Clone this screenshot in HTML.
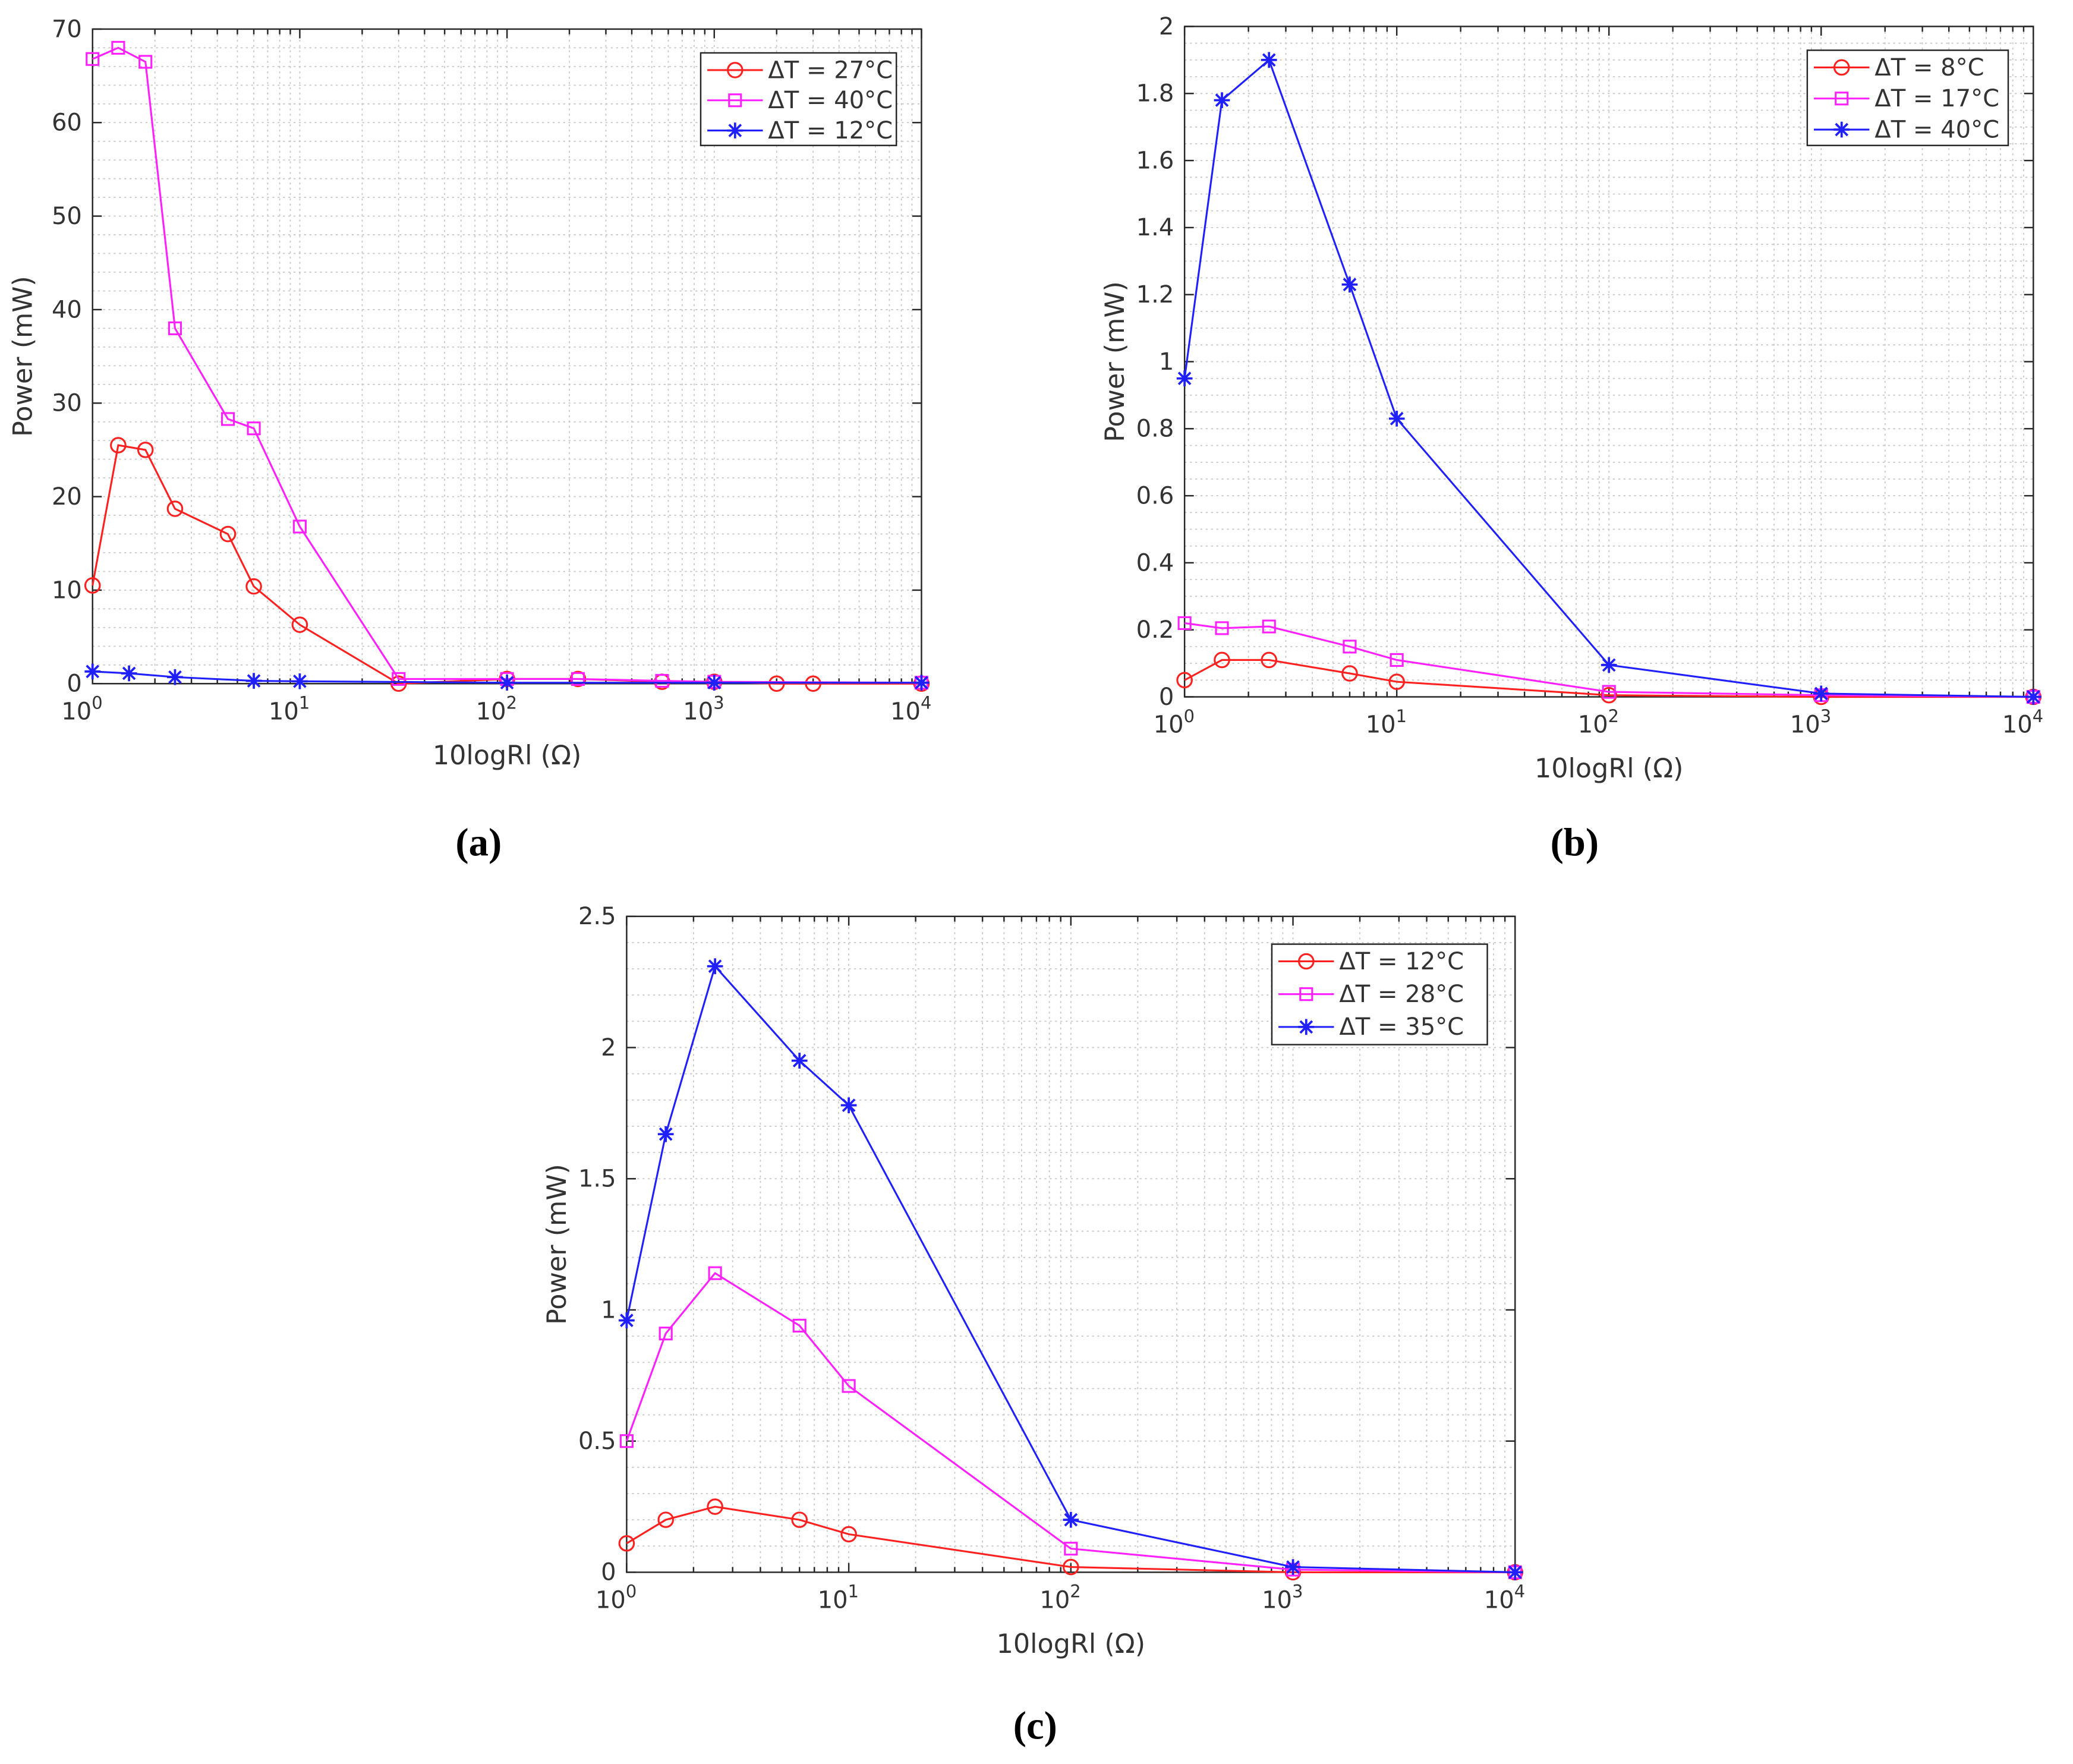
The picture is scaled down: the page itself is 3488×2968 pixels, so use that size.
<!DOCTYPE html>
<html><head><meta charset="utf-8"><style>
html,body{margin:0;padding:0;background:#fff;}
svg{display:block;}
text{font-family:"DejaVu Sans","Liberation Sans",sans-serif;fill:#333;}
.cap{font-family:"Liberation Serif",serif;font-weight:bold;fill:#000;}
</style></head><body>
<svg id="fig" width="3488" height="2968" viewBox="0 0 1568 1334" preserveAspectRatio="none" xmlns="http://www.w3.org/2000/svg">
<rect width="1568" height="1334" fill="#fff"/>
</svg>
<script>
// Chart (a)
const aX1=[1,1.33,1.8,2.5,4.5,6,10,30,100,220,560,1000,2000,3000,10000];
const aY1=[10.5,25.5,25,18.7,16,10.4,6.3,0,0.5,0.5,0.2,0.2,0,0,0];
const aX2=[1,1.33,1.8,2.5,4.5,6,10,30,100,220,560,1000,10000];
const aY2=[66.8,68,66.5,38,28.3,27.3,16.8,0.5,0.5,0.5,0.3,0.2,0.1];
const aX3=[1,1.5,2.5,6,10,100,1000,10000];
const aY3=[1.3,1.1,0.7,0.3,0.25,0.1,0.1,0.1];
const aYTicks=[0,10,20,30,40,50,60,70];
const aLegend=["ΔT = 27°C","ΔT = 40°C","ΔT = 12°C"];
// Chart (b)
const bX=[1,1.5,2.5,6,10,100,1000,10000];
const bY1=[0.05,0.11,0.11,0.07,0.045,0.005,0,0];
const bY2=[0.22,0.205,0.21,0.15,0.11,0.015,0.005,0];
const bY3=[0.95,1.78,1.9,1.23,0.83,0.095,0.01,0];
const bYTicks=[0,0.2,0.4,0.6,0.8,1,1.2,1.4,1.6,1.8,2];
const bLegend=["ΔT = 8°C","ΔT = 17°C","ΔT = 40°C"];
// Chart (c)
const cX=[1,1.5,2.5,6,10,100,1000,10000];
const cY1=[0.11,0.2,0.25,0.2,0.145,0.02,0,0];
const cY2=[0.5,0.91,1.14,0.94,0.71,0.09,0.01,0];
const cY3=[0.96,1.67,2.31,1.95,1.78,0.2,0.02,0];
const cYTicks=[0,0.5,1,1.5,2,2.5];
const cLegend=["ΔT = 12°C","ΔT = 28°C","ΔT = 35°C"];
const xDecades=[0,1,2,3,4];

const NS="http://www.w3.org/2000/svg";
const svg=document.getElementById('fig');
function mk(tag,attrs,parent){const e=document.createElementNS(NS,tag);for(const k in attrs)e.setAttribute(k,attrs[k]);(parent||svg).appendChild(e);return e;}
const colors=['#ff2020','#ff20ff','#2020ff'];
const markers=['circle','square','star'];

function drawMarker(g,type,x,y,c){
  if(type==='circle'){const m=mk('circle',{cx:x,cy:y,r:5.5,fill:'none',stroke:c,'stroke-width':1.4},g);}
  else if(type==='square'){const m=mk('rect',{x:x-4.5,y:y-4.5,width:9,height:9,fill:'none',stroke:c,'stroke-width':1.4},g);}
  else{const m=mk('path',{d:`M${x-6} ${y}H${x+6}M${x} ${y-6}V${y+6}M${x-4.5} ${y-4.5}L${x+4.5} ${y+4.5}M${x-4.5} ${y+4.5}L${x+4.5} ${y-4.5}`,stroke:c,'stroke-width':1.7,fill:'none'},g);}
}

function chart(id,L,R,T,B,yMax,yTicks,yMinorStep,series,legend,leg,cap){
  const g=mk('g',{});
  
  
  const sx=v=>L+(Math.log10(v)/4)*(R-L);
  const sy=v=>B-(v/yMax)*(B-T);
  mk('rect',{x:L,y:T,width:R-L,height:B-T,fill:'#fff'},g);
  const grid=mk('g',{stroke:'#c8c8c8','stroke-width':0.8,'stroke-dasharray':'1.5 2.5'},g);
  
  
  for(let d=0;d<4;d++)for(let k=1;k<=9;k++){const v=k*Math.pow(10,d);if(v<=1)continue;mk('line',{x1:sx(v),x2:sx(v),y1:T,y2:B},grid);}
  for(let v=0;v<=yMax+1e-9;v+=yMinorStep){mk('line',{x1:L,x2:R,y1:sy(v),y2:sy(v)},grid);}
  const ax=mk('g',{stroke:'#262626','stroke-width':1.1,fill:'none'},g);
  
  
  mk('rect',{x:L,y:T,width:R-L,height:B-T},ax);
  xDecades.forEach(d=>{const x=sx(Math.pow(10,d));mk('line',{x1:x,x2:x,y1:B,y2:B-7},ax);mk('line',{x1:x,x2:x,y1:T,y2:T+7},ax);
    const t=mk('text',{x:x-8,y:B+27,'font-size':18,'text-anchor':'middle'},g);
    
    
    t.textContent='10';const s=mk('tspan',{dy:-8,'font-size':13},t);s.textContent=String(d);
  });
  for(let d=0;d<4;d++)for(let k=2;k<=9;k++){const x=sx(k*Math.pow(10,d));mk('line',{x1:x,x2:x,y1:B,y2:B-4},ax);mk('line',{x1:x,x2:x,y1:T,y2:T+4},ax);}
  yTicks.forEach(v=>{const y=sy(v);mk('line',{x1:L,x2:L+7,y1:y,y2:y},ax);mk('line',{x1:R,x2:R-7,y1:y,y2:y},ax);
    const t=mk('text',{x:L-8,y:y+6,'font-size':18,'text-anchor':'end'},g);
    
    
    t.textContent=String(v);
  });
  const xl=mk('text',{x:(L+R)/2,y:B+61,'font-size':20,'text-anchor':'middle'},g);
  
  
  xl.textContent='10logRl (Ω)';
  const yl=mk('text',{x:0,y:0,'font-size':20,'text-anchor':'middle',transform:`translate(${L-46},${(T+B)/2}) rotate(-90)`},g);
  
  
  yl.textContent='Power (mW)';
  series.forEach((s,i)=>{
    const sg=mk('g',{},g);
    
    
    const pts=s[0].map((x,j)=>sx(x)+','+sy(s[1][j])).join(' ');
    const pl=mk('polyline',{points:pts,fill:'none',stroke:colors[i],'stroke-width':1.4},sg);
    
    
    s[0].forEach((x,j)=>drawMarker(sg,markers[i],sx(x),sy(s[1][j]),colors[i]));
  });
  const lg=mk('g',{},g);
  
  
  mk('rect',{x:leg[0],y:leg[1],width:leg[2],height:leg[3],fill:'#fff',stroke:'#262626','stroke-width':1.1},lg);
  legend.forEach((lab,i)=>{
    const y=leg[1]+13+i*23.5*(leg[3]/72);
    const e=mk('g',{},lg);
    
    
    mk('line',{x1:leg[0]+5,x2:leg[0]+47,y1:y,y2:y,stroke:colors[i],'stroke-width':1.4},e);
    drawMarker(e,markers[i],leg[0]+26,y,colors[i]);
    const t=mk('text',{x:leg[0]+51,y:y+6,'font-size':18},e);
    t.textContent=lab;
  });
  const c=mk('text',{x:cap[0],y:cap[1],'font-size':30,'text-anchor':'middle',class:'cap'},g);
  
  
  c.textContent=cap[2];
}
chart('a',70,697,22,517,70,aYTicks,2,[[aX1,aY1],[aX2,aY2],[aX3,aY3]],aLegend,[530,40,148,70],[362,647,'(a)']);
chart('b',896,1538,20,527,2,bYTicks,0.05,[[bX,bY1],[bX,bY2],[bX,bY3]],bLegend,[1367,38,152,72],[1191,647,'(b)']);
chart('c',474,1146,693,1189,2.5,cYTicks,0.1,[[cX,cY1],[cX,cY2],[cX,cY3]],cLegend,[962,714,163,76],[783,1315,'(c)']);
</script>
</body></html>
